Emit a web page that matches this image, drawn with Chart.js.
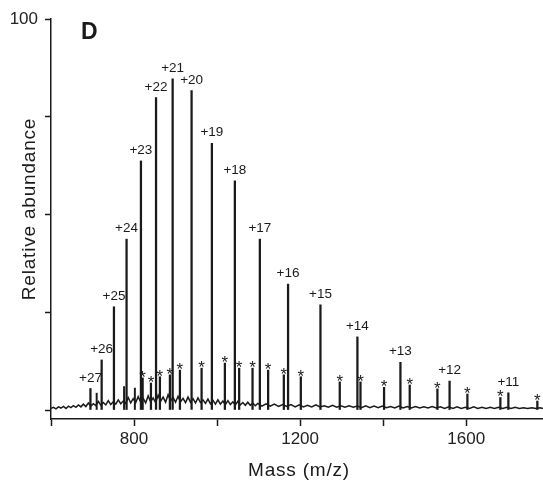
<!DOCTYPE html>
<html>
<head>
<meta charset="utf-8">
<script src="https://cdn.jsdelivr.net/npm/chart.js@4.4.1/dist/chart.umd.min.js"></script>
<style>
  body { margin: 0; background: #fff; }
  #wrap { width: 543px; height: 481px; }
</style>
</head>
<body>
<div id="wrap"><canvas id="spectrum" width="543" height="481"></canvas></div>
<script>
// charge state peaks (m/z, relative abundance)
const chargeLabels = ['+27', '+26', '+25', '+24', '+23', '+22', '+21', '+20', '+19', '+18', '+17', '+16', '+15', '+14', '+13', '+12', '+11'];
const chargeMass = [695, 722, 751.6, 782, 816.6, 853, 893, 938.6, 987.5, 1042.8, 1103, 1171, 1249, 1338, 1441.6, 1560, 1701.6];
const chargeHeight = [5.5, 12.8, 26.4, 43.7, 63.7, 79.9, 84.7, 81.7, 68.2, 58.6, 43.7, 32.2, 26.9, 18.7, 12.2, 7.4, 4.4];

// adduct peaks, marked with *
const adductMass = [820.7, 840.7, 862.3, 886.4, 910.5, 962.7, 1018.8, 1053.2, 1085.4, 1123, 1160.8, 1201.7, 1295.5, 1345.4, 1402.2, 1464, 1530.7, 1602.9, 1682.3, 1771.4];
const adductHeight = [8.2, 6.9, 8.5, 9.0, 10.2, 10.7, 12.0, 10.7, 10.7, 10.2, 9.0, 8.5, 7.2, 7.2, 5.8, 6.4, 5.4, 4.1, 3.2, 2.3];

// small unlabelled peaks
const minorMass = [710, 776, 802];
const minorHeight = [4.3, 6.0, 5.6];

// baseline noise
const baseMass = [
  600, 606, 612, 618, 624, 630, 636, 642, 648, 654,
  660, 666, 672, 678, 684, 690, 696, 702, 708, 714,
  720, 726, 732, 738, 744, 750, 756, 762, 768, 774,
  780, 786, 792, 798, 804, 810, 816, 822, 828, 834,
  840, 846, 852, 858, 864, 870, 876, 882, 888, 894,
  900, 906, 912, 918, 924, 930, 936, 942, 948, 954,
  960, 966, 972, 978, 984, 990, 996, 1002, 1008, 1014,
  1020, 1026, 1032, 1038, 1044, 1050, 1056, 1062, 1068, 1074,
  1080, 1086, 1092, 1098,
  1108, 1118, 1128, 1138, 1148, 1158, 1168, 1178, 1188, 1198,
  1208, 1218, 1228, 1238, 1248, 1258, 1268, 1278, 1288, 1298,
  1308, 1318, 1328, 1338, 1348, 1358, 1368, 1378, 1388, 1398,
  1408, 1418, 1428, 1438, 1448, 1458, 1468, 1478, 1488, 1498,
  1508, 1518, 1528, 1538, 1548, 1558, 1568, 1578, 1588, 1598,
  1608, 1618, 1628, 1638, 1648, 1658, 1668, 1678, 1688, 1698,
  1708, 1718, 1728, 1738, 1748, 1758, 1768, 1778, 1785
];
const baseLevel = [
  0.4, 0.7, 0.3, 0.8, 0.5, 0.9, 0.4, 1.0, 0.6, 1.1,
  0.7, 1.3, 0.8, 1.5, 0.9, 1.8, 1.0, 1.6, 1.1, 2.2,
  1.2, 1.9, 1.3, 2.4, 1.4, 2.1, 1.5, 2.6, 1.6, 2.3,
  1.7, 3.2, 1.8, 2.9, 1.9, 3.4, 2.0, 3.0, 1.8, 3.6,
  2.1, 3.1, 1.9, 3.8, 2.2, 3.3, 2.0, 3.9, 2.3, 3.2,
  2.0, 3.5, 2.1, 3.0, 1.9, 3.3, 2.0, 2.9, 1.8, 3.1,
  1.9, 2.6, 1.7, 2.8, 1.6, 2.5, 1.5, 2.6, 1.5, 2.3,
  1.4, 2.4, 1.4, 2.1, 1.3, 2.2, 1.3, 1.9, 1.2, 2.0,
  1.2, 1.8, 1.1, 1.7,
  1.0, 1.6, 1.0, 1.5, 0.9, 1.4, 0.9, 1.4, 0.8, 1.3,
  0.8, 1.2, 0.8, 1.3, 0.8, 1.1, 0.7, 1.2, 0.7, 1.1,
  0.7, 1.1, 0.7, 1.0, 0.6, 1.1, 0.6, 1.0, 0.6, 1.0,
  0.6, 0.9, 0.5, 1.0, 0.5, 0.9, 0.5, 0.9, 0.5, 0.8,
  0.5, 0.9, 0.5, 0.8, 0.4, 0.8, 0.4, 0.8, 0.4, 0.7,
  0.4, 0.8, 0.4, 0.7, 0.4, 0.7, 0.4, 0.7, 0.4, 0.7,
  0.4, 0.7, 0.4, 0.6, 0.4, 0.6, 0.4, 0.6, 0.4
];

// axis ticks
const xTicks = [600, 800, 1000, 1200, 1400, 1600];
const xTickLabels = ['', '800', '', '1200', '', '1600'];
const yTicks = [0, 25, 50, 75, 100];
const yTickLabels = ['', '', '', '', '100'];

const FONT = 'Arial, "Liberation Sans", sans-serif';
const INK = '#1a1a1a';

function toPoints(xs, ys) {
    return xs.map((v, i) => ({ x: v, y: ys[i] }));
}

// charge labels, asterisks, panel letter and axis titles
const peakLabels = {
    id: 'peakLabels',
    afterDatasetsDraw(chart) {
        const { ctx, chartArea } = chart;
        const x = chart.scales.x;
        const y = chart.scales.y;
        ctx.save();
        ctx.fillStyle = INK;
        ctx.textAlign = 'center';
        ctx.textBaseline = 'alphabetic';

        ctx.font = '13.5px ' + FONT;
        chargeLabels.forEach((t, i) => {
            ctx.fillText(t, x.getPixelForValue(chargeMass[i]), y.getPixelForValue(chargeHeight[i]) - 7);
        });

        ctx.font = '17px ' + FONT;
        adductMass.forEach((m, i) => {
            ctx.fillText('*', x.getPixelForValue(m), y.getPixelForValue(adductHeight[i]) + 5);
        });

        ctx.font = 'bold 23px ' + FONT;
        ctx.textAlign = 'left';
        ctx.fillText('D', chartArea.left + 30, chartArea.top + 20);

        ctx.font = '19px ' + FONT;
        ctx.letterSpacing = '0.8px';
        ctx.textAlign = 'center';
        ctx.fillText('Mass (m/z)', (chartArea.left + chartArea.right) / 2 + 2, 476);

        ctx.translate(35, 209);
        ctx.rotate(-Math.PI / 2);
        ctx.fillText('Relative abundance', 0, 0);
        ctx.restore();
    }
};

const ctx = document.getElementById('spectrum').getContext('2d');
const spectrumChart = new Chart(ctx, {
    type: 'bar',
    data: {
        datasets: [
            {
                type: 'line',
                data: toPoints(baseMass, baseLevel),
                borderColor: INK,
                borderWidth: 1.5,
                pointRadius: 0,
                tension: 0,
                fill: false
            },
            {
                data: toPoints(chargeMass, chargeHeight),
                backgroundColor: INK,
                barThickness: 1.6,
                grouped: false
            },
            {
                data: toPoints(adductMass, adductHeight),
                backgroundColor: INK,
                barThickness: 1.6,
                grouped: false
            },
            {
                data: toPoints(minorMass, minorHeight),
                backgroundColor: INK,
                barThickness: 1.3,
                grouped: false
            }
        ]
    },
    options: {
        responsive: false,
        animation: false,
        events: [],
        layout: { padding: { top: 19, right: 0, left: 0, bottom: 0 } },
        plugins: {
            legend: { display: false },
            tooltip: { enabled: false }
        },
        scales: {
            x: {
                type: 'linear',
                offset: false,
                min: 600,
                max: 1785,
                afterBuildTicks: scale => { scale.ticks = xTicks.map(v => ({ value: v })); },
                afterFit: scale => { scale.height = 62; },
                border: { display: true, color: INK, width: 1.5 },
                grid: { offset: false, drawOnChartArea: false, tickLength: 7, tickColor: INK, tickWidth: 1.5 },
                ticks: {
                    autoSkip: false,
                    maxRotation: 0,
                    padding: 3,
                    color: '#222',
                    font: { family: FONT, size: 17 },
                    callback: v => xTickLabels[xTicks.indexOf(v)] || ''
                }
            },
            y: {
                min: -2.3,
                max: 100,
                afterBuildTicks: scale => { scale.ticks = yTicks.map(v => ({ value: v })); },
                afterFit: scale => { scale.width = 51; },
                border: { display: true, color: INK, width: 1.5 },
                grid: { drawOnChartArea: false, tickLength: 6, tickColor: INK, tickWidth: 1.5 },
                ticks: {
                    autoSkip: false,
                    padding: 7,
                    color: '#222',
                    font: { family: FONT, size: 17 },
                    callback: v => yTickLabels[yTicks.indexOf(v)] || ''
                }
            }
        }
    },
    plugins: [peakLabels]
});
</script>
</body>
</html>
